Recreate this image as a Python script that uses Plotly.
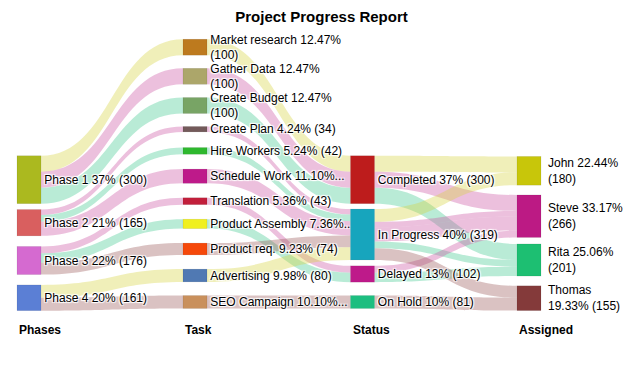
import plotly.graph_objects as go

# ---------------- data ----------------
phases = ["Phase 1", "Phase 2", "Phase 3", "Phase 4"]
phase_labels = ["Phase 1 37% (300)", "Phase 2 21% (165)", "Phase 3 22% (176)", "Phase 4 20% (161)"]

tasks = ["Market research", "Gather Data", "Create Budget", "Create Plan", "Hire Workers",
         "Schedule Work", "Translation", "Product Assembly", "Product req.", "Advertising",
         "SEO Campaign"]
task_labels = ["Market research 12.47%<br>(100)", "Gather Data 12.47%<br>(100)",
               "Create Budget 12.47%<br>(100)", "Create Plan 4.24% (34)",
               "Hire Workers 5.24% (42)", "Schedule Work 11.10%...",
               "Translation 5.36% (43)", "Product Assembly 7.36%...",
               "Product req. 9.23% (74)", "Advertising 9.98% (80)",
               "SEO Campaign 10.10%..."]
task_values = [100, 100, 100, 34, 42, 89, 43, 59, 74, 80, 81]
task_phase = [0, 0, 0, 1, 1, 1, 2, 2, 2, 3, 3]
task_status = [0, 0, 0, 1, 1, 1, 2, 2, 1, 1, 3]
task_person = [0, 1, 2, 1, 2, 1, 1, 2, 3, 0, 3]

statuses = ["Completed", "In Progress", "Delayed", "On Hold"]
status_labels = ["Completed 37% (300)", "In Progress 40% (319)", "Delayed 13% (102)", "On Hold 10% (81)"]

people = ["John", "Steve", "Rita", "Thomas"]
people_labels = ["John 22.44%<br>(180)", "Steve 33.17%<br>(266)", "Rita 25.06%<br>(201)",
                 "Thomas<br>19.33% (155)"]

column_titles = ["Phases", "Task", "Status", "Assigned"]

phase_colors = ["#abb91f", "#d95f5f", "#d56ad0", "#5b7fd5"]
task_colors = ["#bd7a1e", "#aca66a", "#78a465", "#735a5a", "#2eb82e", "#be1a8a",
               "#c21f3b", "#f0f01e", "#f5480a", "#5079b3", "#c9905c"]
status_colors = ["#bd1c1c", "#17a5bd", "#be1a8a", "#1dbe80"]
people_colors = ["#c8c60a", "#bc1a84", "#1dbf72", "#843a3a"]
people_link_colors = ["rgba(214,212,60,0.36)", "rgba(204,90,165,0.38)",
                      "rgba(60,200,140,0.36)", "rgba(150,80,80,0.35)"]

# ---------------- layout geometry (pixels in the window) ----------------
W, H = 640, 384
PAGE_OFFSET = 8          # default body margin of the html page
col_left = [17, 183, 350.5, 517]
thick = 24
phase_y = [179.7, 222.7, 260.5, 297.8]
task_y = [47.2, 76.3, 105.5, 129.2, 150.9, 176.2, 201.2, 223.9, 249.0, 275.5, 302.0]
status_y = [179.7, 234.5, 274.0, 302.0]
people_y = [170.8, 216.2, 260.0, 298.2]


def px_x(v):
    return (v - PAGE_OFFSET) / W


def px_y(v):
    return (v - PAGE_OFFSET) / H


# ---------------- nodes ----------------
n_p, n_t, n_s = len(phases), len(tasks), len(statuses)
off_t = n_p
off_s = off_t + n_t
off_a = off_s + n_s

labels = phase_labels + task_labels + status_labels + [""] * len(people)
colors = phase_colors + task_colors + status_colors + people_colors
xs, ys = [], []
for col, yl in enumerate([phase_y, task_y, status_y, people_y]):
    for y in yl:
        xs.append(px_x(col_left[col] + thick / 2))
        ys.append(px_y(y))

# ---------------- links ----------------
src, tgt, val, lcol = [], [], [], []
for i in range(n_t):
    c = people_link_colors[task_person[i]]
    v = task_values[i]
    src += [task_phase[i], off_t + i, off_s + task_status[i]]
    tgt += [off_t + i, off_s + task_status[i], off_a + task_person[i]]
    val += [v, v, v]
    lcol += [c, c, c]

FONT = "Liberation Sans, Arial, sans-serif"

fig = go.Figure(go.Sankey(
    arrangement="fixed",
    domain=dict(x=[0, 1], y=[0, 1]),
    node=dict(label=labels, color=colors, x=xs, y=ys, pad=27, thickness=thick,
              line=dict(color="rgba(0,0,0,0.12)", width=0.6)),
    link=dict(source=src, target=tgt, value=val, color=lcol),
    textfont=dict(family=FONT, size=12, color="#000000"),
))

annotations = []
for i, lab in enumerate(people_labels):
    annotations.append(dict(
        x=px_x(col_left[3] + thick + 5), y=1 - px_y(people_y[i]), xref="paper", yref="paper",
        text=lab, showarrow=False, xanchor="left", yanchor="middle", align="left",
        font=dict(family=FONT, size=12, color="#000000")))
for i, t in enumerate(column_titles):
    annotations.append(dict(
        x=px_x(col_left[i]), y=1 - px_y(330), xref="paper", yref="paper",
        text="<b>%s</b>" % t, showarrow=False, xanchor="left", yanchor="middle",
        font=dict(family=FONT, size=12, color="#000000")))

fig.update_layout(
    width=W, height=H,
    margin=dict(l=0, r=0, t=0, b=0),
    paper_bgcolor="white", plot_bgcolor="white",
    title=dict(text="<b>Project Progress Report</b>", x=px_x(321.5), xanchor="center",
               y=1 - px_y(17), yanchor="middle", yref="container",
               font=dict(family=FONT, size=15, color="#000000")),
    annotations=annotations,
)

fig.write_html("out.html")
